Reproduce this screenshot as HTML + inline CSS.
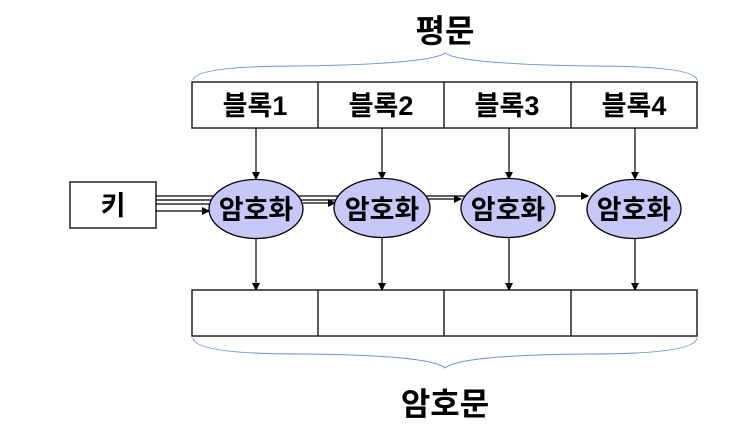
<!DOCTYPE html>
<html><head><meta charset="utf-8"><style>
body{margin:0;background:#fff;}
svg text{font-family:"Liberation Sans","Noto Sans CJK KR",sans-serif;fill:#000;font-weight:bold;}
</style></head><body>
<svg width="748" height="438" viewBox="0 0 748 438" xmlns="http://www.w3.org/2000/svg">
<defs><marker id="a" markerWidth="8" markerHeight="8" refX="7" refY="4" orient="auto" markerUnits="userSpaceOnUse"><path d="M0,0 L8,4 L0,8z" fill="#000"/></marker></defs>
<text x="445" y="42" font-size="32" text-anchor="middle">평문</text>
<path d="M193,80 Q195,66 300,66 Q430,64 445,53 Q460,64 590,66 Q695,66 697,80" fill="none" stroke="#6f8fd6" stroke-width="1"/>
<g stroke="#222" stroke-width="1.5" fill="#fff">
<rect x="192" y="82" width="505" height="46"/>
<line x1="318" y1="82" x2="318" y2="128"/><line x1="444" y1="82" x2="444" y2="128"/><line x1="571" y1="82" x2="571" y2="128"/>
<rect x="192" y="290" width="505" height="46"/>
<line x1="318" y1="290" x2="318" y2="336"/><line x1="444" y1="290" x2="444" y2="336"/><line x1="571" y1="290" x2="571" y2="336"/>
<rect x="70" y="182" width="86" height="46"/>
</g>
<g font-size="27" text-anchor="middle">
<text x="255" y="115">블록1</text><text x="381" y="115">블록2</text><text x="507" y="115">블록3</text><text x="634" y="115">블록4</text>
<text x="113" y="215">키</text>
</g>
<g stroke="#000" stroke-width="1.2" fill="none">
<line x1="256" y1="128" x2="256" y2="179" marker-end="url(#a)"/>
<line x1="382" y1="128" x2="382" y2="179" marker-end="url(#a)"/>
<line x1="509" y1="128" x2="509" y2="179" marker-end="url(#a)"/>
<line x1="635" y1="128" x2="635" y2="179" marker-end="url(#a)"/>
<line x1="256" y1="238" x2="256" y2="290" marker-end="url(#a)"/>
<line x1="382" y1="238" x2="382" y2="290" marker-end="url(#a)"/>
<line x1="509" y1="238" x2="509" y2="290" marker-end="url(#a)"/>
<line x1="635" y1="238" x2="635" y2="290" marker-end="url(#a)"/>
<line x1="156" y1="196" x2="222" y2="196"/>
<line x1="156" y1="200" x2="212" y2="200"/>
<line x1="156" y1="204" x2="209" y2="204"/>
<line x1="156" y1="211" x2="209" y2="211" marker-end="url(#a)"/>
<line x1="290" y1="196" x2="350" y2="196"/>
<line x1="300" y1="200" x2="340" y2="200"/>
<line x1="303" y1="203" x2="335" y2="203" marker-end="url(#a)"/>
<line x1="418" y1="196" x2="472" y2="196"/>
<line x1="428" y1="199" x2="461" y2="199" marker-end="url(#a)"/>
<line x1="556" y1="196" x2="588" y2="196" marker-end="url(#a)"/>
</g>
<g fill="#c8c8f8" stroke="#000" stroke-width="1.3">
<ellipse cx="256" cy="209" rx="47" ry="29.5"/>
<ellipse cx="382" cy="208" rx="48" ry="29.5"/>
<ellipse cx="508" cy="208" rx="47" ry="29.5"/>
<ellipse cx="634" cy="209" rx="47" ry="29.5"/>
</g>
<g font-size="27" text-anchor="middle">
<text x="256" y="219">암호화</text><text x="382" y="219">암호화</text><text x="508" y="219">암호화</text><text x="634" y="219">암호화</text>
</g>
<path d="M193,338 Q195,354 300,354 Q430,355 445,368 Q460,355 590,354 Q695,354 697,338" fill="none" stroke="#6f8fd6" stroke-width="1"/>
<text x="445" y="415" font-size="32" text-anchor="middle">암호문</text>
</svg>
</body></html>
